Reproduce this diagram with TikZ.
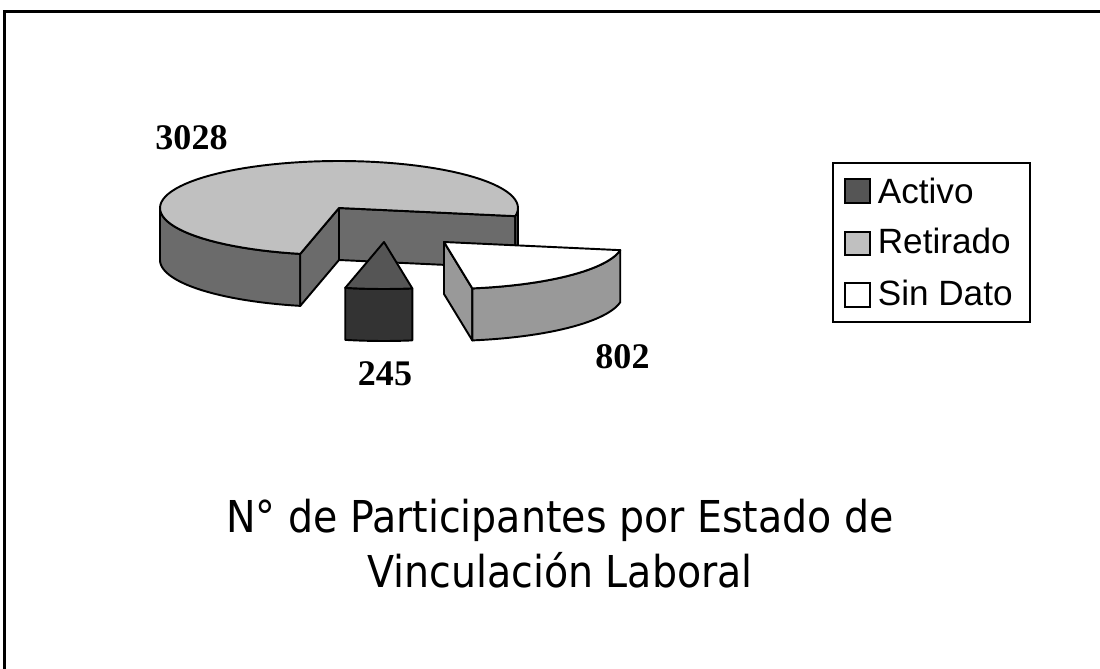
\documentclass[tikz,border=0pt]{standalone}
\usepackage{fontspec}
\setmainfont{Liberation Serif}
\newfontfamily\legendfont{Liberation Sans}
\newfontfamily\titlefont[FakeStretch=0.9]{DejaVu Sans}
\definecolor{retirado}{HTML}{C0C0C0}
\definecolor{retiradoside}{HTML}{6B6B6B}
\definecolor{activo}{HTML}{555555}
\definecolor{activoside}{HTML}{333333}
\definecolor{sindatoside}{HTML}{999999}
\tikzset{
  slice/.style={draw=black,line width=1.1pt,line join=round},
  legtext/.style={anchor=base west,inner sep=0pt,font=\legendfont\fontsize{20}{24}\selectfont},
  value/.style={anchor=base,inner sep=0pt,font=\fontsize{20.5}{24}\selectfont\bfseries},
  titletext/.style={anchor=base,inner sep=0pt,font=\titlefont\fontsize{25}{30}\selectfont}
}

\begin{document}
\begin{tikzpicture}[x=0.02cm,y=-0.02cm]
\fill[white] (0,0) rectangle (1100,669);
\useasboundingbox (0,0) rectangle (1100,669);
\pgfmathsetmacro{\rx}{179}
\pgfmathsetmacro{\ry}{47}
\pgfmathsetmacro{\dep}{52}
% frame
\draw[line width=1.2pt] (4.5,669) -- (4.5,11.5) -- (1100,11.5);
% Retirado
\begin{scope}[shift={(339,208)}]
\draw[slice,fill=retiradoside] (0,0) -- ({\rx*cos(-10)},{-\ry*sin(-10)}) -- ++(0,\dep) -- (0,\dep) -- cycle;
\draw[slice,fill=retiradoside] plot[domain=-10:0,samples=5] ({\rx*cos(\x)},{-\ry*sin(\x)}) -- ++(0,\dep) -- plot[domain=0:-10,samples=5] ({\rx*cos(\x)},{\dep-\ry*sin(\x)}) -- cycle;
\draw[slice,fill=retiradoside] plot[domain=180:257.5,samples=30] ({\rx*cos(\x)},{-\ry*sin(\x)}) -- ++(0,\dep) -- plot[domain=257.5:180,samples=30] ({\rx*cos(\x)},{\dep-\ry*sin(\x)}) -- cycle;
\draw[slice,fill=retiradoside] (0,0) -- ({\rx*cos(257.5)},{-\ry*sin(257.5)}) -- ++(0,\dep) -- (0,\dep) -- cycle;
\draw[slice,fill=retirado] (0,0) -- plot[domain=-10:257.5,samples=80] ({\rx*cos(\x)},{-\ry*sin(\x)}) -- cycle;
\end{scope}
% Sin Dato
\begin{scope}[shift={(444,242)}]
\draw[slice,fill=sindatoside] (0,0) -- ({\rx*cos(279.1)},{-\ry*sin(279.1)}) -- ++(0,\dep) -- (0,\dep) -- cycle;
\draw[slice,fill=sindatoside] plot[domain=279.1:350,samples=30] ({\rx*cos(\x)},{-\ry*sin(\x)}) -- ++(0,\dep) -- plot[domain=350:279.1,samples=30] ({\rx*cos(\x)},{\dep-\ry*sin(\x)}) -- cycle;
\draw[slice,fill=white] (0,0) -- plot[domain=279.1:350,samples=30] ({\rx*cos(\x)},{-\ry*sin(\x)}) -- cycle;
\end{scope}
% Activo
\begin{scope}[shift={(384,242)}]
\draw[slice,fill=activoside] plot[domain=257.5:279.1,samples=12] ({\rx*cos(\x)},{-\ry*sin(\x)}) -- ++(0,\dep) -- plot[domain=279.1:257.5,samples=12] ({\rx*cos(\x)},{\dep-\ry*sin(\x)}) -- cycle;
\draw[slice,fill=activo] (0,0) -- plot[domain=257.5:279.1,samples=12] ({\rx*cos(\x)},{-\ry*sin(\x)}) -- cycle;
\end{scope}
% values
\node[value] (v3028) at (191.5,150) {3028};
\node[value] (v245) at (385,385) {245};
\node[value] (v802) at (622.5,368) {802};
% legend
\draw[line width=1.1pt] (833,163) rectangle (1030,322);
\draw[line width=0.9pt,fill=activo] (845,179) rectangle (870,203);
\draw[line width=0.9pt,fill=retirado] (845,232) rectangle (870,255);
\draw[line width=0.9pt,fill=white] (845,283) rectangle (870,307);
\node[legtext] (lactivo) at (877.5,203.3) {Activo};
\node[legtext] (lretirado) at (877.5,254) {Retirado};
\node[legtext] (lsindato) at (877.5,305) {Sin Dato};
% title
\node[titletext] (title1) at (560,532) {N° de Participantes por Estado de};
\node[titletext] (title2) at (560,587) {Vinculación Laboral};
\end{tikzpicture}
\end{document}
